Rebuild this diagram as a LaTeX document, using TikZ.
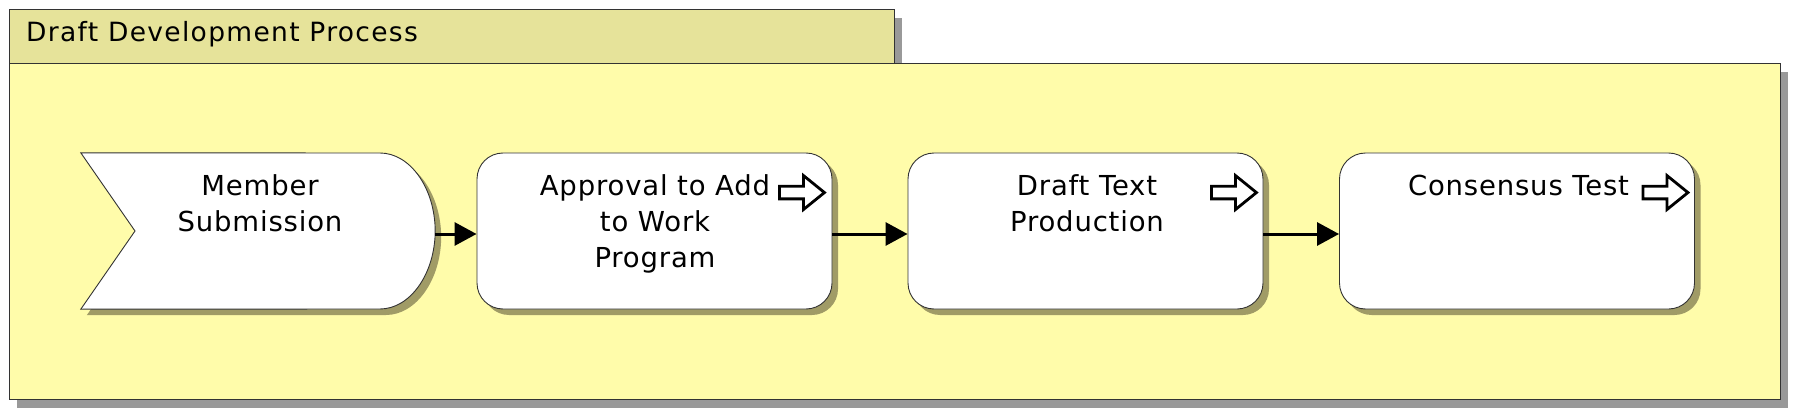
\documentclass[tikz,border=0pt]{standalone}
\usepackage{fontspec}
\setmainfont{DejaVu Sans}
\newfontfamily\boxfont[LetterSpace=3]{DejaVu Sans}
\newfontfamily\titlefont[LetterSpace=5]{DejaVu Sans}
\usetikzlibrary{shadows,arrows.meta,calc}
\definecolor{panelfill}{HTML}{FFFCAA}
\definecolor{tabfill}{HTML}{E6E39A}
\definecolor{panelshadow}{HTML}{999999}
\definecolor{boxshadow}{HTML}{A09B66}
\definecolor{edgecol}{HTML}{333333}
\tikzset{
  panelbox/.style={draw=edgecol, line width=1.3pt, inner sep=0, anchor=north west,
    drop shadow={shadow xshift=7pt, shadow yshift=-8pt, fill=panelshadow, opacity=1}},
  taskbox/.style={draw=edgecol, fill=white, line width=0.9pt, rounded corners=26pt,
    minimum width=355pt, minimum height=156pt, inner sep=0,
    drop shadow={shadow xshift=6pt, shadow yshift=-6pt, fill=boxshadow, opacity=1}},
  tasktext/.style={font=\boxfont\fontsize{27.5}{36}\selectfont, align=center, inner sep=0, anchor=north},
  flow/.style={line width=3pt, -{Triangle[length=22pt,width=23pt]}},
  hollow/.pic={\draw[line width=2.8pt, fill=white, line join=miter]
    (0,-6.3) -- (24,-6.3) -- (24,-17) -- (45,0) -- (24,17) -- (24,6.3) -- (0,6.3) -- cycle;}
}
\begin{document}
\begin{tikzpicture}[x=1pt,y=-1pt]
\useasboundingbox (0,0) rectangle (1797,417);
\fill[white] (0,0) rectangle (1797,417);
% tab and panel
\node[panelbox, fill=tabfill, minimum width=885pt, minimum height=54pt] (tab) at (9,9) {};
\node[panelbox, fill=panelfill, minimum width=1771pt, minimum height=336pt] (pool) at (9,63) {};
\node[font=\titlefont\fontsize{26.5}{30}\selectfont, anchor=base west, inner sep=0] (title) at (26,41.7) {Draft Development Process};
% member submission (custom shape)
\node[minimum width=354pt, minimum height=156pt, inner sep=0] (m) at (258,231) {};
\path[draw=edgecol, fill=white, line width=0.9pt,
  drop shadow={shadow xshift=6pt, shadow yshift=-6pt, fill=boxshadow, opacity=1}]
  (m.north west) -- (380,153) .. controls (410,153) and (435,188) .. (m.east)
  .. controls (435,274) and (410,309) .. (380,309) -- (m.south west) -- (135,231) -- cycle;
\node[tasktext] (mt) at (260,169.8) {\strut Member\\Submission};
% task boxes
\node[taskbox] (b2) at (654.5,231) {};
\node[taskbox] (b3) at (1085.5,231) {};
\node[taskbox] (b4) at (1517,231) {};
\node[tasktext] (t2) at (655,169.8) {\strut Approval to Add\\to Work\\Program};
\node[tasktext] (t3) at (1087,169.8) {\strut Draft Text\\Production};
\node[tasktext] (t4) at (1518.5,169.8) {\strut Consensus Test};
% hollow markers
\pic at ($(b2.north east)+(-53,40)$) {hollow};
\pic at ($(b3.north east)+(-52,40)$) {hollow};
\pic at ($(b4.north east)+(-52,40)$) {hollow};
% connectors
\draw[flow] ([yshift=-3pt]m.east) -- ([yshift=-3pt]b2.west);
\draw[flow] ([yshift=-3pt]b2.east) -- ([yshift=-3pt]b3.west);
\draw[flow] ([yshift=-3pt]b3.east) -- ([yshift=-3pt]b4.west);
\end{tikzpicture}
\end{document}
